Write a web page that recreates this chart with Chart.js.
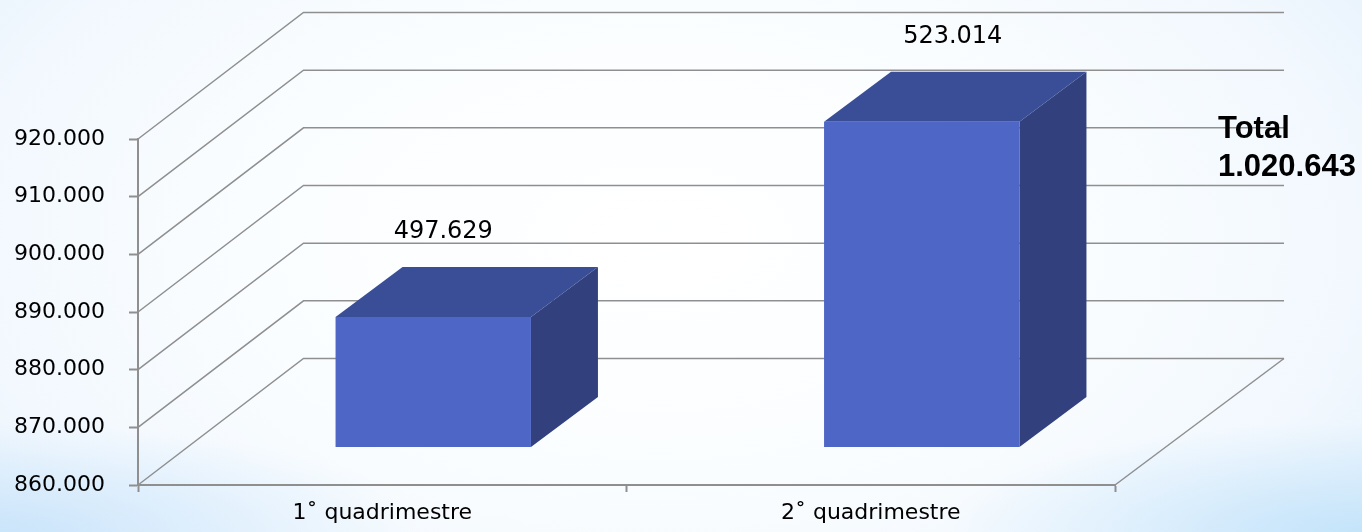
<!DOCTYPE html>
<html>
<head>
<meta charset="utf-8">
<style>
html,body{margin:0;padding:0;width:1362px;height:532px;overflow:hidden;}
body{background:
 radial-gradient(ellipse 420px 110px at 1362px 532px,rgba(190,225,250,.85) 0%,rgba(190,225,250,0) 100%),
 radial-gradient(ellipse 420px 110px at 0px 532px,rgba(195,225,250,.8) 0%,rgba(195,225,250,0) 100%),
 radial-gradient(ellipse 820px 480px at 660px 240px,#ffffff 0%,#fafdff 50%,#f2f8fe 85%,#e4f1fc 110%);}
#c{display:block;}
</style>
<script src="https://cdn.jsdelivr.net/npm/chart.js@4"></script>
</head>
<body>
<canvas id="c" width="1362" height="532"></canvas>
<script>
const categories = ['1˚ quadrimestre', '2˚ quadrimestre'];
const barValues = [882650, 916500];
const barLabels = ['497.629', '523.014'];
const totalLines = ['Total', '1.020.643'];
const yMin = 860000, yMax = 920000, yStep = 10000;

const AXIS = '#8f8f8f';
const FRONT = '#4e67c6', TOP = '#394e96', SIDE = '#32417d';
const BACK = {x: 165.5, y: -126.5};   // depth of the floor
const BAR = {x: 51, y: -37.5};        // front plane of the bars
const DEEP = {x: 67, y: -50};         // depth of a bar
const LABEL_DX = [10, 31];

function poly(ctx, pts, fill) {
  ctx.beginPath();
  pts.forEach((p, i) => i ? ctx.lineTo(p[0], p[1]) : ctx.moveTo(p[0], p[1]));
  ctx.closePath();
  ctx.fillStyle = fill;
  ctx.fill();
}

const fake3d = {
  id: 'fake3d',
  beforeDatasetsDraw(chart) {
    const {ctx, chartArea: a, scales: {y}} = chart;
    ctx.save();
    ctx.strokeStyle = AXIS;
    ctx.lineWidth = 1.5;
    y.ticks.forEach(t => {
      const py = y.getPixelForValue(t.value);
      ctx.beginPath();
      ctx.moveTo(a.left, py);
      ctx.lineTo(a.left + BACK.x, py + BACK.y);
      ctx.lineTo(a.right + BACK.x + 3.5, py + BACK.y);
      ctx.stroke();
    });
    ctx.beginPath();
    ctx.moveTo(a.right + BACK.x + 3.5, a.bottom + BACK.y);
    ctx.lineTo(a.right, a.bottom);
    ctx.stroke();

    chart.getDatasetMeta(0).data.forEach(b => {
      const l = b.x - b.width / 2 + BAR.x, r = b.x + b.width / 2 + BAR.x;
      const t = b.y + BAR.y, f = b.base + BAR.y;
      poly(ctx, [[r, t], [r + DEEP.x, t + DEEP.y], [r + DEEP.x, f + DEEP.y], [r, f]], SIDE);
      poly(ctx, [[l, t], [l + DEEP.x, t + DEEP.y], [r + DEEP.x, t + DEEP.y], [r, t]], TOP);
    });
    ctx.restore();
    ctx.save();
    ctx.translate(BAR.x, BAR.y);
  },
  afterDatasetsDraw(chart) {
    const {ctx} = chart;
    ctx.restore();
    ctx.save();
    ctx.fillStyle = '#000';
    ctx.textAlign = 'center';
    ctx.textBaseline = 'alphabetic';
    ctx.font = '24px "DejaVu Sans"';
    chart.getDatasetMeta(0).data.forEach((b, i) => {
      ctx.fillText(barLabels[i], b.x + BAR.x + LABEL_DX[i], b.y + BAR.y + DEEP.y - 29);
    });
    ctx.textAlign = 'left';
    ctx.font = 'bold 31px "Liberation Sans"';
    const x = chart.chartArea.right + 103;
    totalLines.forEach((s, i) => ctx.fillText(s, x, 138 + i * 38));
    ctx.restore();
  }
};

new Chart(document.getElementById('c'), {
  type: 'bar',
  data: {
    labels: categories,
    datasets: [{
      data: barValues,
      base: yMin,
      backgroundColor: FRONT,
      borderWidth: 0,
      categoryPercentage: 1,
      barPercentage: 0.4,
      clip: false
    }]
  },
  plugins: [fake3d],
  options: {
    responsive: false,
    animation: false,
    layout: {padding: {top: 139, right: 247, left: 0, bottom: 0}},
    plugins: {legend: {display: false}, tooltip: {enabled: false}},
    scales: {
      x: {
        afterFit(s) { s.height = 47; },
        border: {color: AXIS, width: 2},
        grid: {drawOnChartArea: false, tickColor: AXIS, tickLength: 7, tickWidth: 2},
        ticks: {color: '#000', font: {family: '"DejaVu Sans"', size: 22}, padding: 8, maxRotation: 0}
      },
      y: {
        min: yMin, max: yMax,
        afterFit(s) { s.width = 138; },
        border: {color: AXIS, width: 2},
        grid: {drawOnChartArea: false, tickColor: AXIS, tickLength: 9, tickWidth: 2},
        ticks: {
          stepSize: yStep,
          color: '#000',
          font: {family: '"DejaVu Sans"', size: 22},
          padding: 24,
          callback: v => String(v).replace(/(\d{3})(\d{3})$/, '$1.$2')
        }
      }
    }
  }
});
</script>
</body>
</html>
